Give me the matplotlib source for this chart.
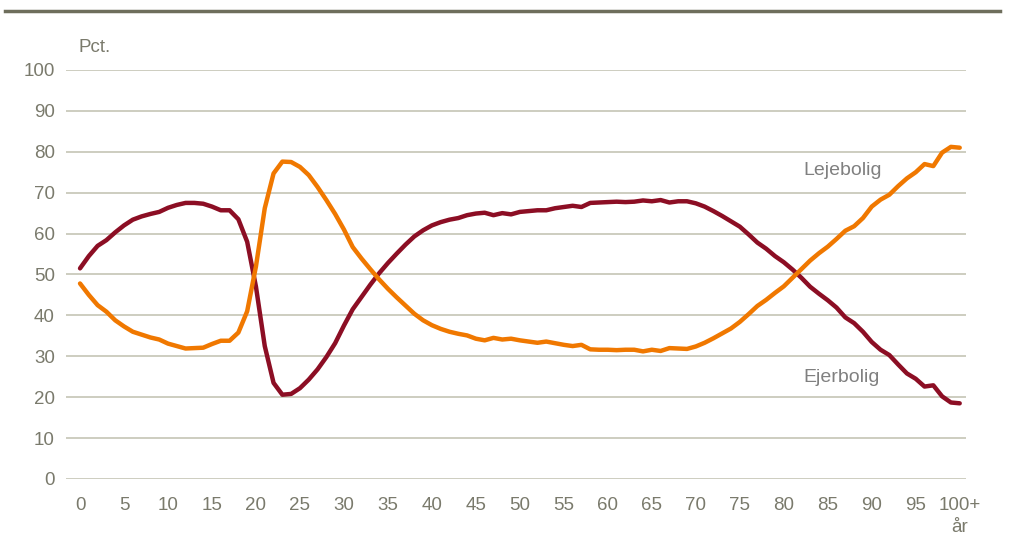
import matplotlib.pyplot as plt
import numpy as np

# alder 0..100+
ages = np.arange(0, 101)

ejerbolig = [
    51.5, 54.5, 57.0, 58.4, 60.3, 62.0, 63.4, 64.2, 64.8, 65.3,
    66.3, 67.0, 67.5, 67.5, 67.3, 66.6, 65.7, 65.7, 63.5, 58.0,
    47.0, 32.5, 23.5, 20.6, 20.8, 22.2, 24.3, 26.8, 29.8, 33.2,
    37.5, 41.5, 44.5, 47.5, 50.3, 52.8, 55.1, 57.3, 59.3, 60.8,
    62.0, 62.8, 63.4, 63.8, 64.5, 64.9, 65.1, 64.5, 65.0, 64.7,
    65.3, 65.5, 65.7, 65.7, 66.2, 66.5, 66.8, 66.5, 67.5, 67.6,
    67.7, 67.8, 67.7, 67.8, 68.1, 67.9, 68.2, 67.6, 67.9, 67.9,
    67.4, 66.6, 65.5, 64.3, 63.0, 61.7, 59.8, 57.8, 56.3, 54.5,
    53.0, 51.2, 49.2, 47.0, 45.3, 43.7, 41.9, 39.5, 38.1, 36.0,
    33.5, 31.6, 30.3, 28.0, 25.8, 24.5, 22.6, 22.9, 20.2, 18.7,
    18.5,
]

lejebolig = [
    47.8, 45.0, 42.5, 40.9, 38.8, 37.3, 36.0, 35.3, 34.6, 34.1,
    33.1, 32.5, 31.9, 32.0, 32.1, 33.0, 33.8, 33.8, 35.8, 41.0,
    52.0, 66.2, 74.7, 77.6, 77.5, 76.3, 74.3, 71.4, 68.2, 64.8,
    61.0, 56.7, 53.9, 51.3, 48.8, 46.5, 44.4, 42.4, 40.4, 38.8,
    37.6, 36.7, 36.0, 35.5, 35.1, 34.3, 33.9, 34.5, 34.1, 34.3,
    33.9, 33.6, 33.3, 33.6, 33.2, 32.8, 32.5, 32.8, 31.7, 31.6,
    31.6, 31.5, 31.6, 31.6, 31.2, 31.6, 31.3, 32.0, 31.9, 31.8,
    32.4, 33.3, 34.4, 35.6, 36.8, 38.4, 40.3, 42.3, 43.8, 45.5,
    47.1, 49.2, 51.3, 53.4, 55.2, 56.8, 58.7, 60.7, 61.8, 63.8,
    66.6, 68.3, 69.5, 71.6, 73.5, 75.0, 77.0, 76.5, 79.8, 81.2,
    81.0,
]

xticks = list(range(0, 101, 5))
xlabels = [str(t) for t in xticks[:-1]] + ['100+']
yticks = list(range(0, 101, 10))

plt.rcParams['font.family'] = ['Liberation Sans', 'DejaVu Sans']
txt_color = '#7a7a6c'

fig = plt.figure(figsize=(10.1, 5.43), dpi=100)
ax = fig.add_axes([0.0653, 0.1179, 0.891, 0.7532])

ax.plot(ages, ejerbolig, color='#8c0e24', lw=3.2, solid_capstyle='round', zorder=3)
ax.plot(ages, lejebolig, color='#f07800', lw=3.2, solid_capstyle='round', zorder=3)

ax.set_xlim(-1.6, 100.7)
ax.set_ylim(0, 100)
ax.set_yticks(yticks)
ax.set_xticks(xticks)
ax.set_xticklabels(xlabels)
ax.grid(axis='y', color='#c9c9bb', lw=1.3)
ax.grid(axis='x', visible=False)
ax.set_axisbelow(True)
for s in ax.spines.values():
    s.set_visible(False)
ax.tick_params(length=0, labelsize=13.5, colors=txt_color)
ax.tick_params(axis='y', pad=8)
ax.tick_params(axis='x', pad=13)

ax.text(100, -11.8, 'år', ha='center', va='center', fontsize=13.5, color=txt_color)
fig.text(78 / 1010, 1 - 47 / 543, 'Pct.', ha='left', va='center', fontsize=13.5, color=txt_color)

ax.text(86.7, 75.5, 'Lejebolig', ha='center', va='center', fontsize=14, color='#808080')
ax.text(86.6, 24.7, 'Ejerbolig', ha='center', va='center', fontsize=14, color='#808080')

# linje i toppen
fig.add_artist(plt.Line2D([5 / 1010, 1000 / 1010], [1 - 11 / 543, 1 - 11 / 543],
                          color='#6e6e5c', lw=2.5))

fig.savefig('out.png', dpi=100)
